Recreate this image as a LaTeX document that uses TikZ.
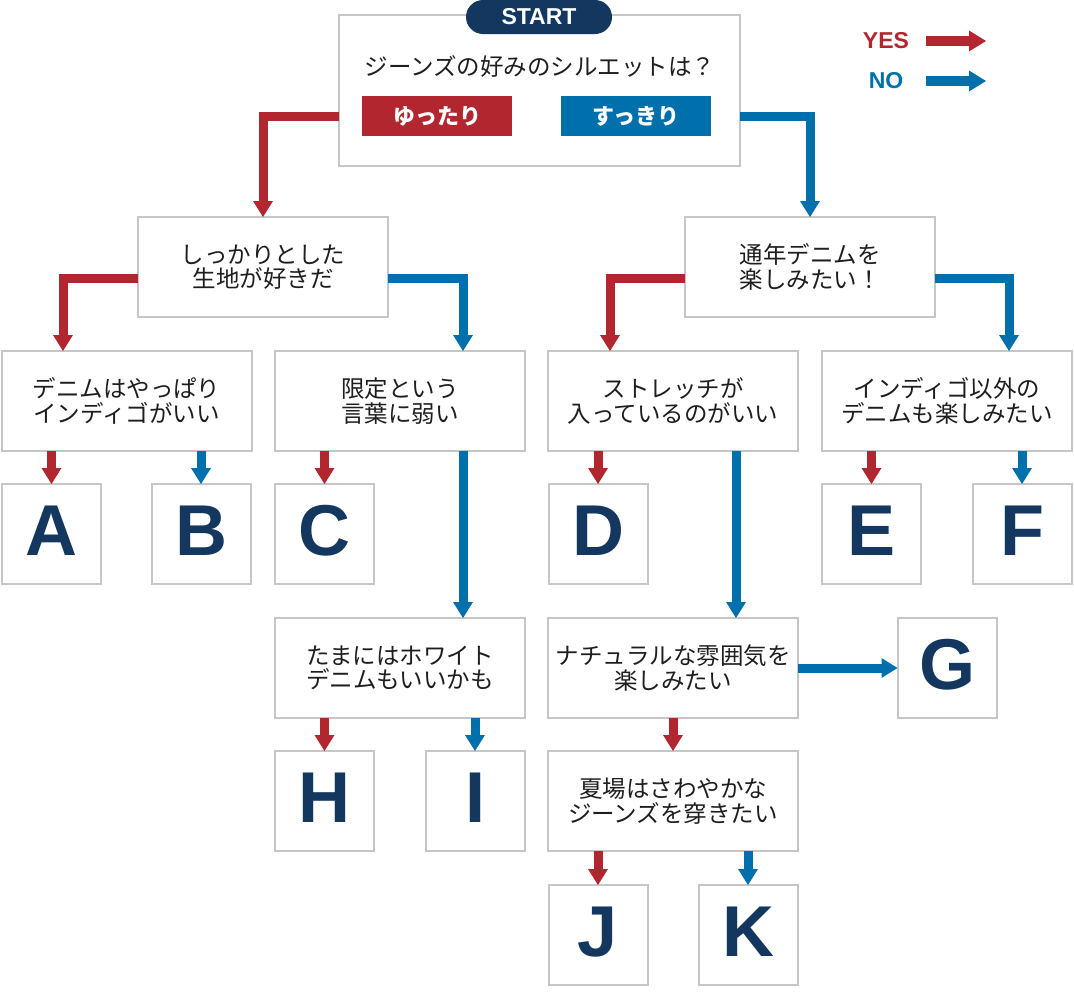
\documentclass[tikz,border=0pt]{standalone}
\usepackage{fontspec}
\newfontfamily\jp{Noto Sans CJK JP}
\newfontfamily\lat{Liberation Sans}
\usetikzlibrary{arrows.meta}
\definecolor{yesred}{HTML}{B2272F}
\definecolor{noblue}{HTML}{0070AD}
\definecolor{navy}{HTML}{13375F}
\definecolor{boxgray}{HTML}{C6C6C6}
\definecolor{txt}{HTML}{1E1E1E}
\begin{document}
\begin{tikzpicture}[x=1pt,y=-1pt,
  qbox/.style={draw=boxgray, line width=2pt, fill=white, inner sep=0pt, outer sep=0pt,
    minimum width=250pt, minimum height=100pt, align=center,
    font=\jp\fontsize{23.5}{24.5}\selectfont, text=txt},
  lbox/.style={qbox, minimum width=99pt, font=\lat\bfseries\fontsize{72}{72}\selectfont, text=navy},
  lettertext/.style={inner sep=0pt, font=\lat\bfseries\fontsize{72}{72}\selectfont, text=navy},
  btn/.style={inner sep=0pt, outer sep=0pt, minimum width=150pt, minimum height=40pt,
    text=white, font=\jp\bfseries\fontsize{22}{22}\selectfont},
  yesline/.style={draw=yesred, line width=9pt, -{Triangle[width=20pt,length=16pt,line width=0pt]}},
  noline/.style={draw=noblue, line width=9pt, -{Triangle[width=20pt,length=16pt,line width=0pt]}},
  legline/.style={line width=10pt, -{Triangle[width=21pt,length=17pt,line width=0pt]}},
  leglbl/.style={font=\lat\bfseries\fontsize{23}{23}\selectfont, inner sep=0pt}
]
\useasboundingbox (0,0) rectangle (1074,991);

% start block
\node[qbox, minimum width=401pt, minimum height=151pt] (start) at (539.5,90.5) {};
\node[fill=navy, rounded corners=17pt, minimum width=146pt, minimum height=34pt, inner sep=0pt,
  text=white, font=\lat\bfseries\fontsize{23}{23}\selectfont] (pill) at (539,17) {START};
\node[font=\jp\fontsize{23.5}{23.5}\selectfont, text=txt, inner sep=0pt] (question) at (540,66) {ジーンズの好みのシルエットは？};
\node[btn, fill=yesred] (yutari) at (437,116) {ゆったり};
\node[btn, fill=noblue] (sukkiri) at (636,116) {すっきり};

% legend
\node[leglbl, text=yesred] (yes) at (886,41) {YES};
\node[leglbl, text=noblue] (no) at (886,81) {NO};
\coordinate (yesA) at (926,41);
\coordinate (yesB) at (986,41);
\coordinate (noA) at (926,81);
\coordinate (noB) at (986,81);
\draw[legline, draw=yesred] (yesA) -- (yesB);
\draw[legline, draw=noblue] (noA) -- (noB);

% question boxes
\node[qbox] (b1) at (263,267) {しっかりとした\\生地が好きだ};
\node[qbox] (b2) at (810,267) {通年デニムを\\楽しみたい！};
\node[qbox] (q3) at (126.5,401) {デニムはやっぱり\\インディゴがいい};
\node[qbox] (q4) at (400,401) {限定という\\言葉に弱い};
\node[qbox] (q5) at (673,401) {ストレッチが\\入っているのがいい};
\node[qbox] (q6) at (947,401) {インディゴ以外の\\デニムも楽しみたい};
\node[qbox] (q7) at (400,668) {たまにはホワイト\\デニムもいいかも};
\node[qbox] (q8) at (673,668) {ナチュラルな雰囲気を\\楽しみたい};
\node[qbox] (q9) at (673,801) {夏場はさわやかな\\ジーンズを穿きたい};

% result boxes
\foreach \n/\x/\y in {A/51.5/534, B/201/534, C/324.5/534, D/598/534, E/871.5/534, F/1022/534,
                      G/947/668, H/324.5/801, I/475/801, J/598/935, K/748/935} {
  \node[qbox, minimum width=99pt] (\n) at (\x,\y) {};
  \node[lettertext] (\n-label) at (\x,\y-3) {\n};
}

% connectors
\draw[yesline] (start.west |- yutari) -| (b1.north);
\draw[noline] (start.east |- sukkiri) -| (b2.north);
\draw[yesline] ([yshift=-11pt]b1.west) -| ([xshift=-63.5pt]q3.north);
\draw[noline] ([yshift=-11pt]b1.east) -| ([xshift=63pt]q4.north);
\draw[yesline] ([yshift=-11pt]b2.west) -| ([xshift=-63pt]q5.north);
\draw[noline] ([yshift=-11pt]b2.east) -| ([xshift=62pt]q6.north);

\draw[yesline] (A.north |- q3.south) -- (A.north);
\draw[noline] (B.north |- q3.south) -- (B.north);
\draw[yesline] (C.north |- q4.south) -- (C.north);
\draw[yesline] (D.north |- q5.south) -- (D.north);
\draw[yesline] (E.north |- q6.south) -- (E.north);
\draw[noline] (F.north |- q6.south) -- (F.north);

\draw[noline] ([xshift=63pt]q4.south) -- ([xshift=63pt]q7.north);
\draw[noline] ([xshift=63pt]q5.south) -- ([xshift=63pt]q8.north);
\draw[noline] (q8.east) -- (G.west);
\draw[yesline] (q8.south) -- (q9.north);

\draw[yesline] (H.north |- q7.south) -- (H.north);
\draw[noline] (I.north |- q7.south) -- (I.north);
\draw[yesline] (J.north |- q9.south) -- (J.north);
\draw[noline] (K.north |- q9.south) -- (K.north);
\end{tikzpicture}
\end{document}
